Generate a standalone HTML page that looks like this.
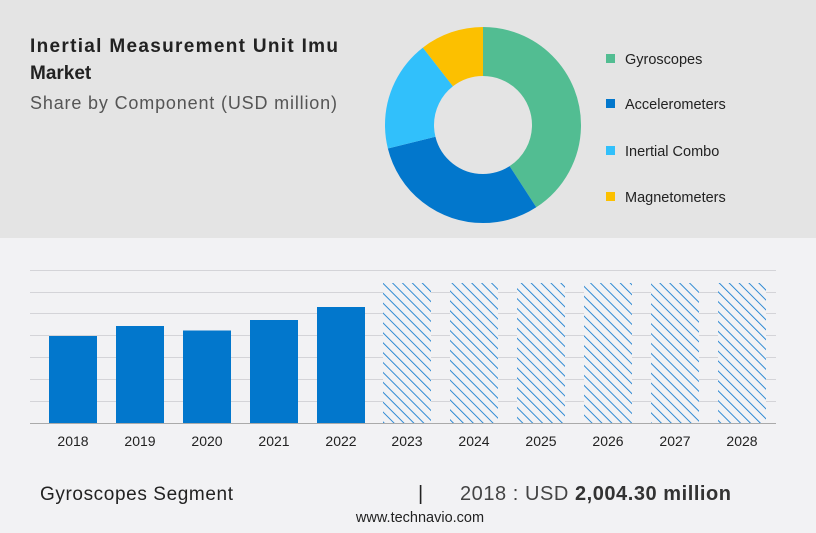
<!DOCTYPE html>
<html><head><meta charset="utf-8"><style>
body{margin:0;width:816px;height:528px;overflow:hidden;background:#f2f2f4;font-family:"Liberation Sans",sans-serif}
</style></head><body>
<svg width="816" height="528" xmlns="http://www.w3.org/2000/svg" font-family="Liberation Sans, sans-serif">
<defs>
<pattern id="h" patternUnits="userSpaceOnUse" width="7" height="7" patternTransform="rotate(-45)">
<rect width="7" height="7" fill="#f2f2f4"/><line x1="0" y1="0" x2="0" y2="7" stroke="#1a7fd0" stroke-width="1.8"/>
</pattern>
</defs>
<rect x="0" y="0" width="816" height="238" fill="#e4e4e4"/>
<text x="30" y="52" font-size="19" font-weight="bold" fill="#222" textLength="308">Inertial Measurement Unit Imu</text>
<text x="30" y="79" font-size="19" font-weight="bold" fill="#222">Market</text>
<text x="30" y="109" font-size="18" fill="#555" textLength="307">Share by Component (USD million)</text>
<g transform="rotate(-90 483 125)" fill="none" stroke-width="49">
<circle cx="483" cy="125" r="73.5" stroke="#52bd92" stroke-dasharray="188.6 461.8" stroke-dashoffset="0"/>
<circle cx="483" cy="125" r="73.5" stroke="#0277cc" stroke-dasharray="139.8 461.8" stroke-dashoffset="-188.6"/>
<circle cx="483" cy="125" r="73.5" stroke="#31c0fb" stroke-dasharray="84.7 461.8" stroke-dashoffset="-328.4"/>
<circle cx="483" cy="125" r="73.5" stroke="#fcc000" stroke-dasharray="48.8 461.8" stroke-dashoffset="-413.1"/>
</g>
<g font-size="14.5" fill="#222">
<rect x="606" y="54" width="9" height="9" fill="#52bd92"/><text x="625" y="64">Gyroscopes</text>
<rect x="606" y="99" width="9" height="9" fill="#0277cc"/><text x="625" y="109">Accelerometers</text>
<rect x="606" y="146" width="9" height="9" fill="#31c0fb"/><text x="625" y="156">Inertial Combo</text>
<rect x="606" y="192" width="9" height="9" fill="#fcc000"/><text x="625" y="202">Magnetometers</text>
</g>
<g stroke="#d4d4d8" stroke-width="1">
<line x1="30" y1="270.5" x2="776" y2="270.5"/><line x1="30" y1="292.5" x2="776" y2="292.5"/>
<line x1="30" y1="313.5" x2="776" y2="313.5"/><line x1="30" y1="335.5" x2="776" y2="335.5"/>
<line x1="30" y1="357.5" x2="776" y2="357.5"/><line x1="30" y1="379.5" x2="776" y2="379.5"/>
<line x1="30" y1="401.5" x2="776" y2="401.5"/>
</g>
<g fill="#0277cc">
<rect x="49" y="336" width="48" height="87"/><rect x="116" y="326" width="48" height="97"/>
<rect x="183" y="330.5" width="48" height="92.5"/><rect x="250" y="320" width="48" height="103"/>
<rect x="317" y="307" width="48" height="116"/>
</g>
<g fill="url(#h)">
<rect x="383" y="283" width="48" height="140"/><rect x="450" y="283" width="48" height="140"/>
<rect x="517" y="283" width="48" height="140"/><rect x="584" y="283" width="48" height="140"/>
<rect x="651" y="283" width="48" height="140"/><rect x="718" y="283" width="48" height="140"/>
</g>
<line x1="30" y1="423.5" x2="776" y2="423.5" stroke="#aaa"/>
<g font-size="14" fill="#222" text-anchor="middle">
<text x="73" y="446">2018</text><text x="140" y="446">2019</text><text x="207" y="446">2020</text>
<text x="274" y="446">2021</text><text x="341" y="446">2022</text><text x="407" y="446">2023</text>
<text x="474" y="446">2024</text><text x="541" y="446">2025</text><text x="608" y="446">2026</text>
<text x="675" y="446">2027</text><text x="742" y="446">2028</text>
</g>
<text x="40" y="500" font-size="19" fill="#222" textLength="193">Gyroscopes Segment</text>
<text x="418" y="500" font-size="20" fill="#222">|</text>
<text x="460" y="500" font-size="20" fill="#444" textLength="271">2018 : USD <tspan font-weight="bold" fill="#333">2,004.30 million</tspan></text>
<text x="420" y="522" font-size="14.5" fill="#222" text-anchor="middle">www.technavio.com</text>
</svg>
</body></html>
